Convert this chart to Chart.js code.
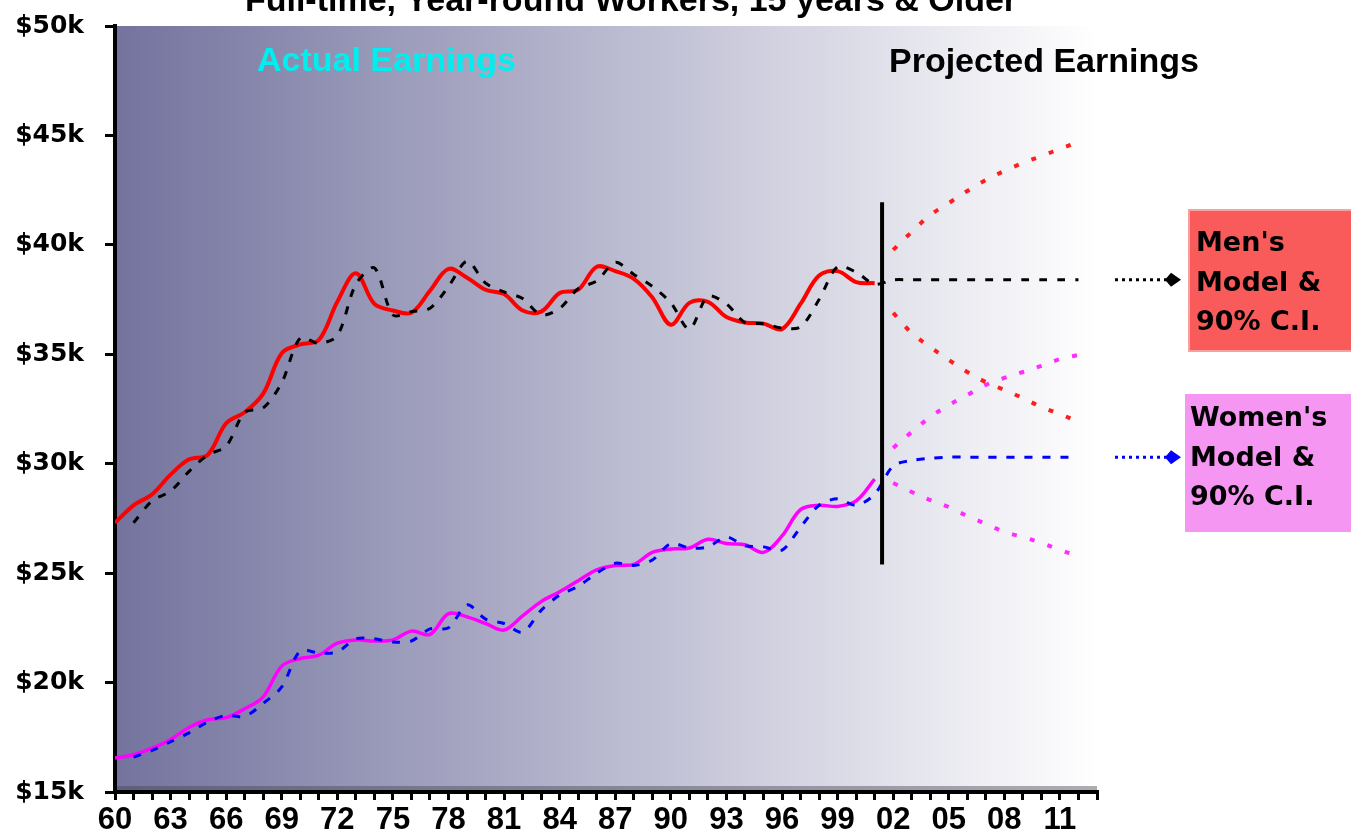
<!DOCTYPE html>
<html>
<head>
<meta charset="utf-8">
<script src="https://cdn.jsdelivr.net/npm/chart.js@4.4.1/dist/chart.umd.min.js"></script>
<style>
  html, body { margin: 0; padding: 0; background: #fff; }
  #wrap { width: 1351px; height: 839px; position: relative; }
</style>
</head>
<body>
<div id="wrap"><canvas id="grafico"></canvas></div>
<script>
// anos com dados observados
const actualYears = [1960, 1961, 1962, 1963, 1964, 1965, 1966, 1967, 1968, 1969,
  1970, 1971, 1972, 1973, 1974, 1975, 1976, 1977, 1978, 1979,
  1980, 1981, 1982, 1983, 1984, 1985, 1986, 1987, 1988, 1989,
  1990, 1991, 1992, 1993, 1994, 1995, 1996, 1997, 1998, 1999,
  2000, 2001];

// anos do modelo (ajuste + projeção)
const modelYears = [1961, 1962, 1963, 1964, 1965, 1966, 1967, 1968, 1969,
  1970, 1971, 1972, 1973, 1974, 1975, 1976, 1977, 1978, 1979,
  1980, 1981, 1982, 1983, 1984, 1985, 1986, 1987, 1988, 1989,
  1990, 1991, 1992, 1993, 1994, 1995, 1996, 1997, 1998, 1999,
  2000, 2001, 2002, 2003, 2004, 2005, 2006, 2007, 2008, 2009,
  2010, 2011, 2012];

const projYears = [2002, 2003, 2004, 2005, 2006, 2007, 2008, 2009, 2010, 2011, 2012];

const menActual = [27300, 28100, 28600, 29500, 30200, 30400, 31850, 32350, 33200, 35050,
  35450, 35650, 37400, 38700, 37300, 37000, 36900, 37900, 38900, 38500,
  37950, 37750, 37000, 36950, 37800, 37950, 39000, 38800, 38450, 37600,
  36350, 37350, 37400, 36700, 36450, 36400, 36150, 37300, 38600, 38800,
  38300, 38250];

const menModel = [27300, 28300, 28750, 29650, 30400, 30800, 32350, 32550, 33700,
  35750, 35500, 35850, 38200, 38950, 36800, 36950, 37100, 38100, 39250,
  38250, 37850, 37550, 36800, 37100, 38000, 38350, 39200, 38650, 38100,
  37350, 36150, 37650, 37300, 36450, 36400, 36200, 36250, 37500, 39000,
  38750, 38200, 38400, 38400, 38400, 38400, 38400, 38400, 38400, 38400,
  38400, 38400, 38400];

const womenActual = [16550, 16700, 17000, 17400, 17950, 18300, 18400, 18800, 19350, 20750,
  21100, 21250, 21800, 21950, 21900, 21950, 22350, 22200, 23150, 23000,
  22700, 22400, 23050, 23700, 24150, 24650, 25150, 25350, 25400, 25950,
  26100, 26150, 26550, 26350, 26300, 25950, 26700, 27900, 28100, 28050,
  28300, 29300];

const womenModel = [16600, 16900, 17300, 17700, 18200, 18500, 18450, 19050, 19800,
  21450, 21350, 21400, 22000, 22000, 21850, 21900, 22450, 22500, 23550,
  22900, 22700, 22300, 23300, 24000, 24400, 25000, 25450, 25350, 25600,
  26350, 26150, 26200, 26650, 26250, 26200, 26050, 27100, 28100, 28400,
  28100, 28600, 29900, 30150, 30250, 30300, 30300, 30300, 30300, 30300,
  30300, 30300, 30300];

// intervalos de confiança de 90%
const menUpper   = [39770, 40590, 41360, 41910, 42460, 42960, 43380, 43740, 44060, 44380, 44700];
const menLower   = [36890, 35970, 35330, 34740, 34190, 33730, 33370, 33000, 32590, 32270, 31910];
const womenUpper = [30720, 31450, 32130, 32680, 33140, 33600, 33920, 34190, 34470, 34780, 34970];
const womenLower = [29120, 28710, 28340, 28020, 27610, 27250, 26880, 26650, 26380, 26060, 25780];

// linha que separa observado / projetado
const splitYear  = 2001.4;
const splitRange = [41950, 25400];

const yTicks = [15000, 20000, 25000, 30000, 35000, 40000, 45000, 50000];

const TITLE     = "Full-time, Year-round Workers, 15 years & Older";
const LBL_REAL  = "Actual Earnings";
const LBL_PROJ  = "Projected Earnings";
const MEN_BOX   = ["Men's", "Model &", "90% C.I."];
const WOMEN_BOX = ["Women's", "Model &", "90% C.I."];

const pts = (xs, ys) => xs.map((x, i) => ({ x, y: ys[i] }));

function seta(ctx, x0, x1, y, cor) {
  ctx.strokeStyle = cor;
  ctx.fillStyle = cor;
  ctx.lineWidth = 3;
  ctx.setLineDash([3, 4]);
  ctx.beginPath();
  ctx.moveTo(x0, y);
  ctx.lineTo(x1 - 12, y);
  ctx.stroke();
  ctx.setLineDash([]);
  ctx.beginPath();
  ctx.moveTo(x1, y);
  ctx.lineTo(x1 - 10, y - 7);
  ctx.lineTo(x1 - 16, y);
  ctx.lineTo(x1 - 10, y + 7);
  ctx.closePath();
  ctx.fill();
}

function caixa(ctx, x, y, w, h, fundo, borda, linhas, tx, ty) {
  ctx.fillStyle = fundo;
  ctx.fillRect(x, y, w, h);
  if (borda) {
    ctx.strokeStyle = borda;
    ctx.lineWidth = 2;
    ctx.strokeRect(x + 1, y + 1, w, h - 2);
  }
  ctx.fillStyle = "#000";
  ctx.font = "bold 27px 'DejaVu Sans'";
  ctx.textAlign = "left";
  ctx.textBaseline = "middle";
  linhas.forEach((t, i) => ctx.fillText(t, x + tx, y + ty + i * 39.5));
}

const decoracao = {
  id: "decoracao",
  beforeDraw(chart) {
    const { ctx, chartArea: a } = chart;
    ctx.save();
    const g = ctx.createLinearGradient(a.left, 0, a.right, 0);
    g.addColorStop(0, "#73739e");
    g.addColorStop(0.5, "#b9b9d0");
    g.addColorStop(1, "#ffffff");
    ctx.fillStyle = g;
    ctx.fillRect(a.left, a.top, a.right - a.left, a.bottom - a.top);
    // sombra na base da área do gráfico
    ctx.fillStyle = "rgba(70,70,85,0.45)";
    ctx.fillRect(a.left, a.bottom - 6, a.right - a.left, 6);
    ctx.restore();
  },
  afterDraw(chart) {
    const { ctx, chartArea: a, scales } = chart;
    ctx.save();
    ctx.fillStyle = "#000";
    ctx.font = "bold 34px 'Liberation Sans'";
    ctx.textAlign = "center";
    ctx.textBaseline = "alphabetic";
    ctx.fillText(TITLE, 631, 11);

    ctx.textAlign = "left";
    ctx.textBaseline = "middle";
    ctx.fillStyle = "#00eeee";
    ctx.fillText(LBL_REAL, 257, 62);
    ctx.fillStyle = "#000";
    ctx.fillText(LBL_PROJ, 889, 63);

    const yMen = scales.y.getPixelForValue(menModel[menModel.length - 1]);
    const yWom = scales.y.getPixelForValue(womenModel[womenModel.length - 1]);
    seta(ctx, a.right + 18, a.right + 84, yMen, "#000");
    seta(ctx, a.right + 18, a.right + 84, yWom, "#0000ff");

    caixa(ctx, a.right + 91, 209, 170, 143, "#f95b5b", "#fb9f9f", MEN_BOX, 8, 35);
    caixa(ctx, a.right + 88, 394, 170, 138, "#f596f3", null, WOMEN_BOX, 5, 25);
    ctx.restore();
  }
};

const linha = (label, data, cor, larg, extra) => Object.assign({
  label, data, borderColor: cor, borderWidth: larg, pointRadius: 0,
  fill: false, tension: 0.35
}, extra || {});

new Chart(document.getElementById("grafico"), {
  type: "line",
  data: {
    datasets: [
      linha("Divisão", [{ x: splitYear, y: splitRange[0] }, { x: splitYear, y: splitRange[1] }], "#000", 4, { tension: 0 }),
      linha("Men's Model", pts(modelYears, menModel), "#000", 3, { borderDash: [8, 10], tension: 0.3 }),
      linha("Women's Model", pts(modelYears, womenModel), "#0000ff", 3, { borderDash: [8, 10], tension: 0.3 }),
      linha("Men", pts(actualYears, menActual), "#ff0000", 4),
      linha("Women", pts(actualYears, womenActual), "#ff00ff", 3.5),
      linha("Men 90% sup", pts(projYears, menUpper), "#ff1e1e", 4, { borderDash: [5, 13.5] }),
      linha("Men 90% inf", pts(projYears, menLower), "#ff1e1e", 4, { borderDash: [5, 13.5] }),
      linha("Women 90% sup", pts(projYears, womenUpper), "#ff2cff", 4, { borderDash: [5, 13.5] }),
      linha("Women 90% inf", pts(projYears, womenLower), "#ff2cff", 4, { borderDash: [5, 13.5] }),
    ],
  },
  options: {
    responsive:          true,
    maintainAspectRatio: false,
    animation:           false,
    layout: { padding: { left: 12, right: 254, top: 26, bottom: 0 } },
    plugins: {
      legend:  { display: false },
      tooltip: { enabled: false },
    },
    scales: {
      x: {
        type: "linear",
        min: 1960,
        max: 2013,
        afterFit: s => { s.height = 47; },
        ticks: {
          stepSize: 1,
          autoSkip: false,
          maxRotation: 0,
          minRotation: 0,
          padding: 2,
          color: "#000",
          font: { family: "'Liberation Sans'", size: 31, weight: "bold" },
          callback: v => {
            const a = Math.round(v);
            return (a - 1960) % 3 === 0 ? String(a % 100).padStart(2, "0") : "";
          },
        },
        grid:   { drawOnChartArea: false, color: "#000", lineWidth: 3, tickLength: 8 },
        border: { color: "#000", width: 4 },
      },
      y: {
        min: yTicks[0],
        max: yTicks[yTicks.length - 1],
        // largura fixa e sem folga extra para o rótulo do topo
        afterFit: s => { s.width = 103; s.paddingTop = 0; s.paddingBottom = 0; },
        afterBuildTicks: s => { s.ticks = yTicks.map(v => ({ value: v })); },
        ticks: {
          padding: 21,
          color: "#000",
          font: { family: "'DejaVu Sans'", size: 25, weight: "bold" },
          callback: v => "$" + v / 1000 + "k",
        },
        grid:   { drawOnChartArea: false, color: "#000", lineWidth: 3, tickLength: 10 },
        border: { color: "#000", width: 4 },
      },
    },
  },
  plugins: [decoracao],
});
</script>
</body>
</html>
